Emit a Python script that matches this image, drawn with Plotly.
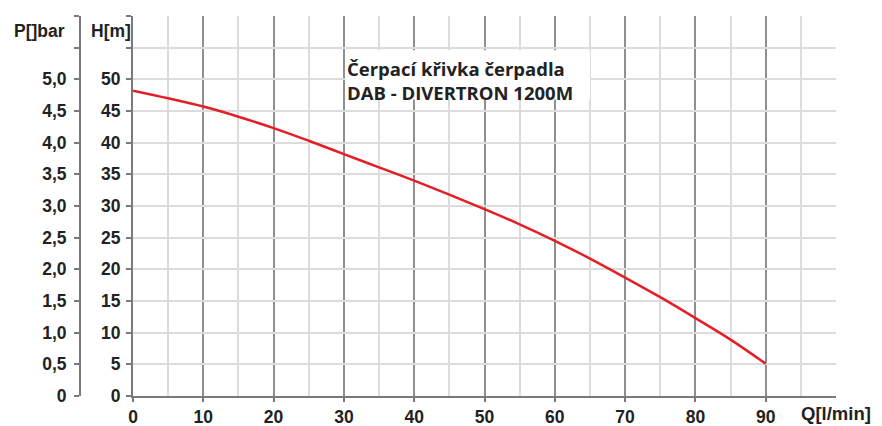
import plotly.graph_objects as go

# Data
q_values = [0, 5, 10, 15, 20, 25, 30, 35, 40, 45, 50, 55, 60, 65, 70, 75, 80, 85, 90]
h_values = [48.2, 47.0, 45.7, 44.1, 42.3, 40.3, 38.2, 36.1, 34.0, 31.8, 29.5, 27.1, 24.5, 21.7, 18.7, 15.6, 12.3, 8.9, 5.1]
x_ticks = [0, 10, 20, 30, 40, 50, 60, 70, 80, 90]
h_ticks = [0, 5, 10, 15, 20, 25, 30, 35, 40, 45, 50, 55, 60]
h_labels = ["0", "5", "10", "15", "20", "25", "30", "35", "40", "45", "50", "", ""]
p_ticks = [0, 0.5, 1.0, 1.5, 2.0, 2.5, 3.0, 3.5, 4.0, 4.5, 5.0, 5.5, 6.0]
p_labels = ["0", "0,5", "1,0", "1,5", "2,0", "2,5", "3,0", "3,5", "4,0", "4,5", "5,0", "", ""]
title_lines = ["Čerpací křivka čerpadla", "DAB - DIVERTRON 1200M"]

W, H = 882, 426
ml, mr, mt, mb = 10, 46, 16, 30
pw = W - ml - mr
ph = H - mt - mb
x_start = (133 - ml) / pw
p_pos = (80 - ml) / pw

tickfont = dict(family="Liberation Sans, Arial, sans-serif", size=17.5, color="#222222", weight="bold")

fig = go.Figure()
fig.add_trace(go.Scatter(
    x=q_values, y=h_values, mode="lines",
    line=dict(color="#e41e26", width=2.5, shape="spline"),
    showlegend=False, hoverinfo="skip",
))
# invisible trace for the P axis
fig.add_trace(go.Scatter(x=[0], y=[0], yaxis="y2", mode="markers",
                         marker=dict(opacity=0), showlegend=False, hoverinfo="skip"))

fig.update_layout(
    width=W, height=H, autosize=False,
    margin=dict(l=ml, r=mr, t=mt, b=mb, autoexpand=False),
    paper_bgcolor="white", plot_bgcolor="white",
    xaxis=dict(
        domain=[x_start, 1], range=[0, 100], automargin=False,
        tickvals=x_ticks, ticktext=[str(v) for v in x_ticks],
        showgrid=True, gridcolor="#8f8f8f", gridwidth=2,
        minor=dict(dtick=5, tick0=0, showgrid=True, gridcolor="#dcdcdc", gridwidth=1.5),
        showline=True, linecolor="#7a7a7a", linewidth=2,
        ticks="outside", ticklen=4, tickcolor="#7a7a7a", tickwidth=1.5,
        ticklabelstandoff=0,
        tickfont=tickfont, zeroline=False, fixedrange=True,
    ),
    yaxis=dict(
        range=[0, 60], tickvals=h_ticks, ticktext=h_labels, automargin=False,
        showgrid=True, gridcolor="#dcdcdc", gridwidth=1.5,
        showline=True, linecolor="#7a7a7a", linewidth=2,
        ticks="outside", ticklen=5, tickcolor="#7a7a7a", tickwidth=1.5,
        ticklabelstandoff=2,
        tickfont=tickfont, zeroline=False, fixedrange=True,
    ),
    yaxis2=dict(
        range=[0, 6], tickvals=p_ticks, ticktext=p_labels, automargin=False,
        overlaying="y", anchor="free", position=p_pos, side="left",
        showgrid=False, showline=True, linecolor="#7a7a7a", linewidth=2,
        ticks="outside", ticklen=5, tickcolor="#7a7a7a", tickwidth=1.5,
        ticklabelstandoff=4,
        tickfont=tickfont, zeroline=False, fixedrange=True,
    ),
)

# white box behind the title text (hides gridlines)
fig.add_shape(type="rect", xref="x", yref="y", x0=30.25, x1=65, y0=46.8, y1=54.6,
              fillcolor="white", line=dict(width=0), layer="between")

lblfont = dict(family="Liberation Sans, Arial, sans-serif", size=17.5, color="#222222", weight="bold")
fig.add_annotation(text="P[]bar", xref="paper", yref="paper",
                   x=(67 - ml) / pw, y=(H - mb - 31) / ph,
                   xanchor="right", yanchor="middle", showarrow=False, font=lblfont)
fig.add_annotation(text="H[m]", xref="paper", yref="paper",
                   x=(133 - ml) / pw, y=(H - mb - 31) / ph,
                   xanchor="right", yanchor="middle", showarrow=False, font=lblfont)
fig.add_annotation(text="Q[l/min]", xref="paper", yref="paper",
                   x=(799 - ml) / pw, y=-(413 - (H - mb)) / ph,
                   xanchor="left", yanchor="middle", showarrow=False,
                   font=dict(family="Liberation Sans, Arial, sans-serif", size=18.5,
                             color="#222222", weight="bold"))
title_font = dict(family="Open Sans, sans-serif", size=18.5, color="#222222", weight="bold")
for line_text, y_pos in zip(title_lines, [51.75, 48.0]):
    fig.add_annotation(text=line_text, x=30.35, y=y_pos, xref="x", yref="y",
                       xanchor="left", yanchor="middle", align="left", showarrow=False,
                       font=title_font, borderpad=0)

fig.write_html("out.html", post_script="document.body.style.margin='0';",
               config={"displayModeBar": False})
